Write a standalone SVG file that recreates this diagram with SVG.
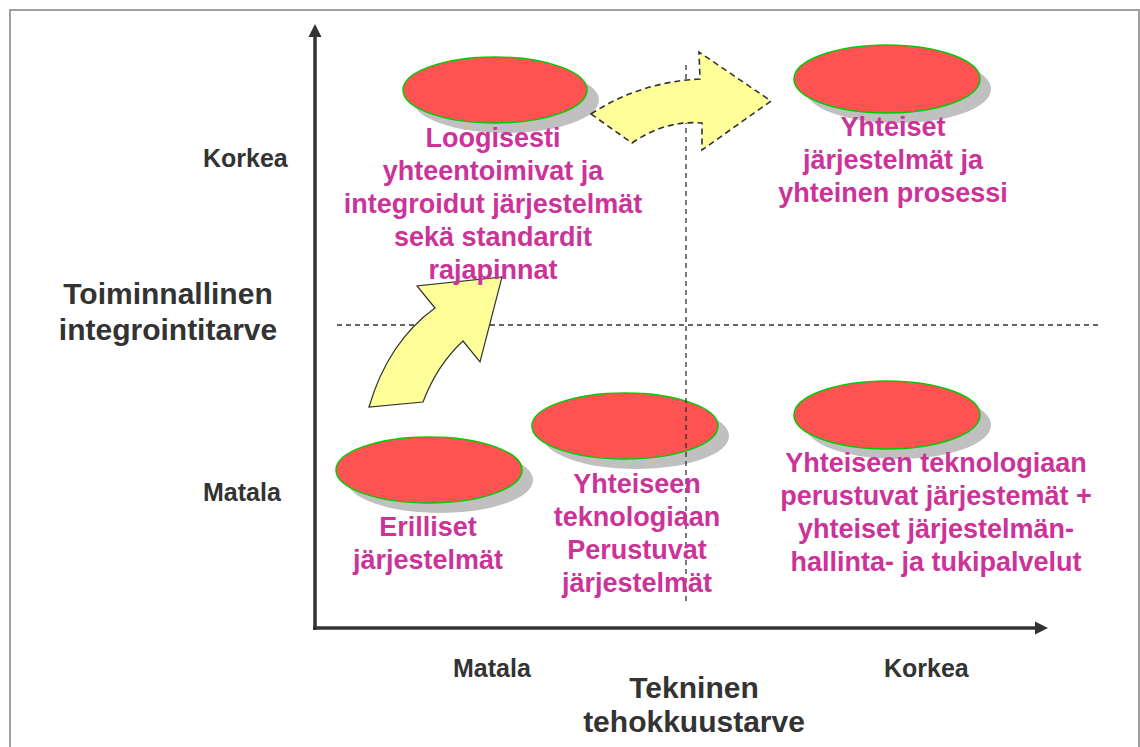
<svg xmlns="http://www.w3.org/2000/svg" width="1140" height="747" viewBox="0 0 1140 747">
  <defs>
    <style>
      .frame { fill: #ffffff; stroke: #a0a0a0; stroke-width: 2; }
      .axis { stroke: #333333; stroke-width: 3.5; fill: none; }
      .axis-head { fill: #333333; }
      .grid { stroke: #333333; stroke-width: 1.3; stroke-dasharray: 5 4; fill: none; }
      .shadow { fill: #c0c0c0; }
      .blob { fill: #ff5252; stroke: #00cc00; stroke-width: 1.5; }
      .arrow-solid { fill: #ffff99; stroke: #333333; stroke-width: 1.2; }
      .arrow-dashed { fill: #ffff99; stroke: #333333; stroke-width: 1.6; stroke-dasharray: 6 4; }
      .label { font-family: "Liberation Sans", Arial, sans-serif; font-weight: bold; fill: #cc3399; font-size: 27px; text-anchor: middle; }
      .axis-title { font-family: "Liberation Sans", Arial, sans-serif; font-weight: bold; fill: #333333; font-size: 30px; text-anchor: middle; }
      .tick { font-family: "Liberation Sans", Arial, sans-serif; font-weight: bold; fill: #333333; font-size: 25px; }
    </style>
  </defs>

  <rect class="frame" x="10" y="10" width="1129" height="760"/>

  <!-- category blobs with drop shadows -->
  <g id="node-logical">
    <ellipse class="shadow" cx="506" cy="100" rx="93" ry="33"/>
    <ellipse class="blob" cx="495" cy="90" rx="92" ry="33"/>
  </g>
  <g id="node-shared-process">
    <ellipse class="shadow" cx="898" cy="89" rx="93" ry="34"/>
    <ellipse class="blob" cx="887" cy="79" rx="93" ry="34"/>
  </g>
  <g id="node-separate">
    <ellipse class="shadow" cx="440" cy="480" rx="93" ry="33"/>
    <ellipse class="blob" cx="429" cy="470" rx="93" ry="33"/>
  </g>
  <g id="node-shared-tech">
    <ellipse class="shadow" cx="636" cy="436" rx="93" ry="33"/>
    <ellipse class="blob" cx="625" cy="426" rx="93" ry="33"/>
  </g>
  <g id="node-shared-tech-services">
    <ellipse class="shadow" cx="898" cy="425" rx="93" ry="34"/>
    <ellipse class="blob" cx="887" cy="415" rx="93" ry="34"/>
  </g>

  <!-- quadrant dividers -->
  <g id="grid">
    <line class="grid" x1="337" y1="325" x2="1100" y2="325"/>
    <line class="grid" x1="686" y1="65" x2="686" y2="605"/>
  </g>

  <!-- axes and transition arrows -->
  <g id="connectors">
    <line class="axis" x1="315" y1="630" x2="315" y2="35"/>
    <polygon class="axis-head" points="315,24 308.5,37 321.5,37"/>
    <line class="axis" x1="313" y1="628" x2="1037" y2="628"/>
    <polygon class="axis-head" points="1048,628 1035,621.5 1035,634.5"/>

    <path class="arrow-solid" d="M369,407 Q388,342 435,308 L417,286 L502,277 L480,362 L463,341 Q437,365 423,402 Z"/>
    <path class="arrow-dashed" d="M591,114 Q640,82 700,79 L699,52 L771,101 L702,150 L702,123 Q665,120 632,143 Z"/>
  </g>

  <!-- blob captions -->
  <g id="text-logical">
    <text class="label" x="493" y="147">Loogisesti</text>
    <text class="label" x="493" y="180">yhteentoimivat ja</text>
    <text class="label" x="493" y="213">integroidut järjestelmät</text>
    <text class="label" x="493" y="246">sekä standardit</text>
    <text class="label" x="493" y="279">rajapinnat</text>
  </g>
  <g id="text-shared-process">
    <text class="label" x="893" y="136">Yhteiset</text>
    <text class="label" x="893" y="169">järjestelmät ja</text>
    <text class="label" x="893" y="202">yhteinen prosessi</text>
  </g>
  <g id="text-separate">
    <text class="label" x="428" y="536">Erilliset</text>
    <text class="label" x="428" y="569">järjestelmät</text>
  </g>
  <g id="text-shared-tech">
    <text class="label" x="637" y="493">Yhteiseen</text>
    <text class="label" x="637" y="526">teknologiaan</text>
    <text class="label" x="637" y="559">Perustuvat</text>
    <text class="label" x="637" y="592">järjestelmät</text>
  </g>
  <g id="text-shared-tech-services">
    <text class="label" x="936" y="472">Yhteiseen teknologiaan</text>
    <text class="label" x="936" y="505">perustuvat järjestemät +</text>
    <text class="label" x="936" y="538">yhteiset järjestelmän-</text>
    <text class="label" x="936" y="571">hallinta- ja tukipalvelut</text>
  </g>

  <!-- axis titles and scale labels -->
  <g id="axis-labels">
    <text class="tick" x="203" y="167">Korkea</text>
    <text class="tick" x="203" y="501">Matala</text>
    <text class="axis-title" x="168" y="304">Toiminnallinen</text>
    <text class="axis-title" x="168" y="340">integrointitarve</text>
    <text class="tick" x="453" y="677">Matala</text>
    <text class="tick" x="884" y="677">Korkea</text>
    <text class="axis-title" x="694" y="698">Tekninen</text>
    <text class="axis-title" x="694" y="732">tehokkuustarve</text>
  </g>
</svg>
